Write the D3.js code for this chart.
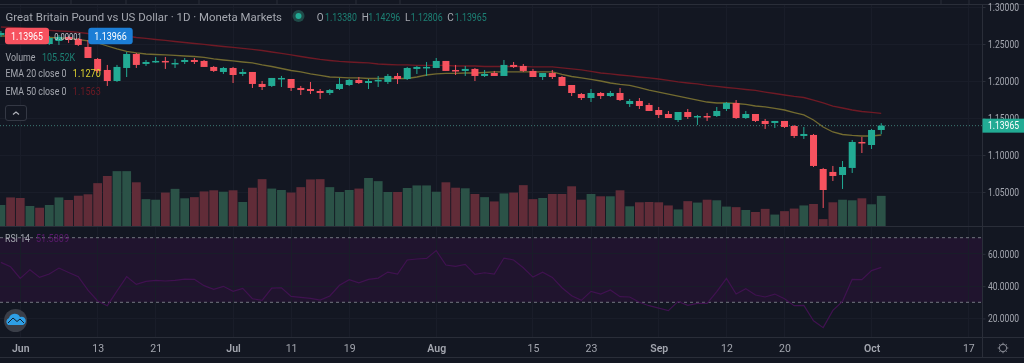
<!DOCTYPE html>
<html><head><meta charset="utf-8">
<script src="https://cdn.jsdelivr.net/npm/d3@7/dist/d3.min.js"></script>
<style>
html,body{margin:0;padding:0;background:#131722;overflow:hidden}
svg{display:block;filter:blur(.4px)}
text{font-family:Roboto,"Liberation Sans",sans-serif}
</style></head><body>
<svg id="c" width="1024" height="363"></svg>
<script>
const opens=[1.2622,1.2676,1.2649,1.2581,1.2622,1.2500,1.2541,1.2595,1.2568,1.2460,1.2298,1.2149,1.2000,1.2176,1.2365,1.2230,1.2257,1.2271,1.2230,1.2257,1.2284,1.2271,1.2190,1.2122,1.2176,1.2095,1.2122,1.1960,1.1933,1.2027,1.2027,1.1906,1.1892,1.1865,1.1838,1.1892,1.1946,1.2014,1.1973,1.2000,1.1987,1.2068,1.2027,1.2163,1.2176,1.2176,1.2271,1.2149,1.2136,1.2163,1.2068,1.2108,1.2068,1.2217,1.2203,1.2136,1.2054,1.2108,1.2054,1.1946,1.1824,1.1770,1.1838,1.1797,1.1838,1.1689,1.1730,1.1676,1.1608,1.1554,1.1473,1.1581,1.1514,1.1527,1.1527,1.1622,1.1703,1.1500,1.1554,1.1460,1.1433,1.1460,1.1392,1.1257,1.1271,1.0811,1.0771,1.0730,1.0825,1.1176,1.1135,1.1338];
const highs=[1.2676,1.2703,1.2676,1.2676,1.2649,1.2608,1.2622,1.2608,1.2581,1.2554,1.2311,1.2217,1.2217,1.2392,1.2379,1.2284,1.2325,1.2325,1.2298,1.2311,1.2311,1.2284,1.2203,1.2190,1.2190,1.2163,1.2122,1.2000,1.2041,1.2068,1.2027,1.1933,1.1987,1.1892,1.1892,1.2041,1.2027,1.2054,1.2027,1.2068,1.2095,1.2108,1.2190,1.2203,1.2257,1.2311,1.2271,1.2217,1.2203,1.2176,1.2149,1.2136,1.2284,1.2257,1.2230,1.2163,1.2108,1.2149,1.2068,1.1946,1.1838,1.1892,1.1851,1.1865,1.1906,1.1757,1.1770,1.1703,1.1649,1.1595,1.1581,1.1622,1.1541,1.1568,1.1649,1.1716,1.1743,1.1595,1.1554,1.1487,1.1460,1.1460,1.1406,1.1379,1.1284,1.0825,1.0852,1.0919,1.1203,1.1244,1.1352,1.1430];
const lows=[1.2595,1.2581,1.2568,1.2554,1.2527,1.2487,1.2487,1.2514,1.2473,1.2311,1.2108,1.1933,1.1987,1.2054,1.2176,1.2203,1.2244,1.2163,1.2176,1.2230,1.2230,1.2190,1.2122,1.2095,1.1973,1.2068,1.1906,1.1878,1.1919,1.1919,1.1865,1.1811,1.1824,1.1757,1.1811,1.1878,1.1933,1.1960,1.1892,1.1919,1.1960,1.1960,1.2014,1.2095,1.2068,1.2176,1.2136,1.2081,1.2068,1.2000,1.2054,1.2068,1.2068,1.2176,1.2122,1.2054,1.2014,1.2027,1.1933,1.1797,1.1743,1.1716,1.1757,1.1784,1.1730,1.1649,1.1622,1.1595,1.1500,1.1500,1.1446,1.1487,1.1406,1.1460,1.1514,1.1595,1.1487,1.1487,1.1446,1.1352,1.1365,1.1365,1.1230,1.1217,1.0838,1.0284,1.0649,1.0541,1.0757,1.1027,1.1081,1.1281];
const closes=[1.2649,1.2608,1.2595,1.2649,1.2554,1.2581,1.2595,1.2554,1.2487,1.2311,1.2136,1.2000,1.2190,1.2365,1.2217,1.2257,1.2271,1.2257,1.2244,1.2284,1.2257,1.2190,1.2136,1.2176,1.2081,1.2122,1.1960,1.1919,1.2041,1.2041,1.1906,1.1878,1.1865,1.1838,1.1878,1.1960,1.2014,1.1973,1.2000,1.2014,1.2068,1.2027,1.2176,1.2190,1.2190,1.2271,1.2136,1.2136,1.2163,1.2068,1.2095,1.2068,1.2217,1.2190,1.2136,1.2054,1.2108,1.2054,1.1933,1.1838,1.1770,1.1838,1.1797,1.1838,1.1743,1.1730,1.1662,1.1595,1.1541,1.1500,1.1581,1.1514,1.1527,1.1514,1.1595,1.1703,1.1500,1.1554,1.1460,1.1419,1.1460,1.1379,1.1257,1.1284,1.0852,1.0527,1.0716,1.0838,1.1176,1.1163,1.1338,1.13965];
const volumes=[73.5,100,98,70,64,73.5,100,91,106,111,150,175,192,192,153,94,92,117,130,97,101,121,125,120,125,84,134,164,131,126,117,136,163,164,136,119,126,131,168,157,119,119,133,142,142,120,153,134,132,112,101,86,114,117,143,94,98,112,112,139,92,112,104,104,125,69,83,84,83,72,58,87,82,92,90,68,66,56,49,60,40,52,61,72,77,24,83,92,90,97,76,105.52];
const ema20=[1.2608,1.2608,1.2608,1.2601,1.2595,1.2588,1.2581,1.2575,1.2561,1.2541,1.2514,1.2473,1.2433,1.2399,1.2379,1.2365,1.2358,1.2352,1.2345,1.2338,1.2331,1.2318,1.2298,1.2284,1.2271,1.2257,1.2244,1.2217,1.2196,1.2169,1.2142,1.2122,1.2095,1.2075,1.2054,1.2048,1.2041,1.2041,1.2034,1.2034,1.2034,1.2034,1.2034,1.2054,1.2081,1.2095,1.2102,1.2102,1.2108,1.2108,1.2115,1.2122,1.2122,1.2122,1.2122,1.2122,1.2122,1.2122,1.2088,1.2061,1.2041,1.2021,1.2000,1.1973,1.1953,1.1940,1.1912,1.1878,1.1851,1.1824,1.1797,1.1770,1.1743,1.1716,1.1703,1.1703,1.1696,1.1683,1.1662,1.1649,1.1629,1.1608,1.1574,1.1541,1.1473,1.1379,1.1311,1.1277,1.1264,1.1257,1.1257,1.1270];
const ema50=[1.2730,1.2723,1.2717,1.2703,1.2689,1.2683,1.2676,1.2669,1.2656,1.2642,1.2635,1.2629,1.2622,1.2608,1.2588,1.2575,1.2561,1.2548,1.2534,1.2520,1.2507,1.2494,1.2480,1.2466,1.2453,1.2440,1.2426,1.2412,1.2392,1.2372,1.2352,1.2331,1.2311,1.2291,1.2277,1.2264,1.2257,1.2250,1.2244,1.2230,1.2223,1.2217,1.2217,1.2210,1.2210,1.2210,1.2210,1.2203,1.2203,1.2203,1.2196,1.2196,1.2196,1.2196,1.2196,1.2190,1.2190,1.2190,1.2176,1.2163,1.2149,1.2129,1.2108,1.2095,1.2081,1.2068,1.2054,1.2041,1.2027,1.2007,1.1987,1.1973,1.1960,1.1940,1.1926,1.1912,1.1899,1.1885,1.1872,1.1851,1.1831,1.1811,1.1791,1.1777,1.1743,1.1703,1.1662,1.1635,1.1608,1.1588,1.1575,1.1563];
const rsi=[54.7,52.0,44.8,50.2,45.4,47.5,51.2,48.5,45.9,37.6,30.8,27.9,37.0,45.9,41.1,43.0,43.6,43.2,43.6,44.4,44.2,40.3,38.0,39.9,36.8,38.6,32.2,31.2,38.8,39.0,33.7,33.1,32.4,31.4,33.9,40.5,44.0,42.1,44.2,45.0,48.7,47.5,56.2,56.8,57.2,62.0,53.1,52.2,53.5,47.3,48.3,47.5,57.4,56.2,51.4,45.6,48.7,45.4,39.0,34.1,31.2,36.8,35.1,37.6,33.5,33.3,30.0,27.9,26.4,24.8,30.6,28.1,29.3,29.3,36.6,44.8,35.1,38.4,34.5,33.3,35.1,32.2,27.9,28.1,18.6,14.3,25.0,30.6,44.2,44.0,49.6,51.6];
const priceTicks=[1.30,1.25,1.20,1.15,1.10,1.05];
const rsiTicks=[60,40,20];
const rsiBand=[70,30];
const timeTickIndex=[2,10,16,24,30,36,45,55,61,68,75,81,90,100];
const timeTickLabels=["Jun","13","21","Jul","11","19","Aug","15","23","Sep","12","20","Oct","17"];
const timeTickBold=["Jun","Jul","Aug","Sep","Oct"];
const lastPrice=1.13965;
const titleText="Great Britain Pound vs US Dollar · 1D · Moneta Markets";
const ohlcLabels=["O","H","L","C"];
const ohlcValues=["1.13380","1.14296","1.12806","1.13965"];

const RED="#f7525f",GREEN="#22ab94";
const svg=d3.select("#c");
const x=d3.scaleLinear().domain([0,100]).range([0.9,968.3]);
const y=d3.scaleLinear().domain([1.30,1.05]).range([7,192]);
const yVol=d3.scaleLinear().domain([0,200]).range([226,226-200/3.5]);
const yRsi=d3.scaleLinear().domain([70,30]).range([237.7,302.3]);
const plotR=982.5, GRID="#191d29", LINE="#2a2e39", AXT="#a3a6af";
const idx=d3.range(closes.length);

svg.append("g").selectAll("line").data([71,126,199,277,356,400,941,969]).join("line")
  .attr("x1",d=>d).attr("x2",d=>d).attr("y1",0).attr("y2",4).attr("stroke",LINE);

const grid=svg.append("g").attr("stroke",GRID).attr("stroke-width",1).attr("shape-rendering","crispEdges");
grid.selectAll(".v").data(timeTickIndex).join("line").attr("class","v").attr("x1",d=>x(d)).attr("x2",d=>x(d)).attr("y1",5).attr("y2",337);
grid.selectAll(".h").data(priceTicks).join("line").attr("class","h").attr("x1",0).attr("x2",plotR).attr("y1",d=>y(d)).attr("y2",d=>y(d));

svg.append("rect").attr("x",0).attr("width",plotR).attr("y",yRsi(rsiBand[0])).attr("height",yRsi(rsiBand[1])-yRsi(rsiBand[0])).attr("fill","#20142e");
grid.raise();
grid.selectAll(".r").data(rsiTicks).join("line").attr("class","r").attr("x1",0).attr("x2",plotR).attr("y1",d=>yRsi(d)).attr("y2",d=>yRsi(d));
svg.append("g").selectAll("line").data(rsiBand).join("line").attr("x1",0).attr("x2",plotR).attr("y1",d=>yRsi(d)).attr("y2",d=>yRsi(d))
  .attr("stroke","#737681").attr("stroke-dasharray","3 3");

const frame=svg.append("g").attr("stroke",LINE).attr("shape-rendering","crispEdges");
[[0,1024,4.5,4.5],[0,1024,226.5,226.5],[0,1024,337.5,337.5],[0,1024,357.5,357.5],[982.5,982.5,4.5,357.5]].forEach(l=>
  frame.append("line").attr("x1",l[0]).attr("x2",l[1]).attr("y1",l[2]).attr("y2",l[3]));

svg.append("g").selectAll("rect").data(idx).join("rect")
  .attr("x",i=>x(i)-4.4).attr("width",8.8).attr("y",i=>yVol(volumes[i])).attr("height",i=>226-yVol(volumes[i]))
  .attr("fill",i=>closes[i]>=opens[i]?"#2b5247":"#612c38");

const lineP=d3.line().x((d,i)=>x(i)).y(d=>y(d));
svg.append("path").attr("d",lineP(ema50)).attr("fill","none").attr("stroke","#6f1a25").attr("stroke-width",1.3);
svg.append("path").attr("d",lineP(ema20)).attr("fill","none").attr("stroke","#736b30").attr("stroke-width",1.3);

svg.append("line").attr("x1",0).attr("x2",plotR).attr("y1",y(lastPrice)).attr("y2",y(lastPrice))
  .attr("stroke","#3c7a73").attr("stroke-dasharray","1 2");

const cg=svg.append("g");
cg.selectAll("line").data(idx).join("line").attr("x1",i=>x(i)).attr("x2",i=>x(i))
  .attr("y1",i=>y(highs[i])).attr("y2",i=>y(lows[i])).attr("stroke",i=>closes[i]>=opens[i]?GREEN:RED);
cg.selectAll("rect").data(idx).join("rect").attr("x",i=>x(i)-3.5).attr("width",7)
  .attr("y",i=>y(Math.max(opens[i],closes[i])))
  .attr("height",i=>Math.max(1.5,Math.abs(y(opens[i])-y(closes[i]))))
  .attr("fill",i=>closes[i]>=opens[i]?GREEN:RED);

svg.append("path").attr("d",d3.line().x((d,i)=>x(i)).y(d=>yRsi(d))(rsi)).attr("fill","none").attr("stroke","#401250").attr("stroke-width",1.2);

function styleAxis(g){g.select(".domain").remove();g.selectAll("text").attr("fill",AXT).attr("font-size",10)
  .attr("textLength",31).attr("lengthAdjust","spacingAndGlyphs");}
svg.append("g").attr("transform",`translate(${plotR},0)`).call(d3.axisRight(y).tickValues(priceTicks).tickSize(3).tickPadding(2.5).tickFormat(d3.format(".5f"))).call(styleAxis).call(g=>g.selectAll("line").attr("stroke",LINE));
svg.append("g").attr("transform",`translate(${plotR},0)`).call(d3.axisRight(yRsi).tickValues(rsiTicks).tickSize(3).tickPadding(2.5).tickFormat(d3.format(".4f"))).call(styleAxis).call(g=>g.selectAll("line").attr("stroke",LINE));
svg.append("g").attr("transform","translate(0,337.5)").call(d3.axisBottom(x).tickValues(timeTickIndex).tickSize(0).tickPadding(7).tickFormat((d,i)=>timeTickLabels[i]))
  .call(g=>{g.select(".domain").remove();g.selectAll("text").attr("fill",AXT).attr("font-size",10.5)
    .attr("font-weight",d=>timeTickBold.includes(timeTickLabels[timeTickIndex.indexOf(d)])?600:400);});

svg.append("rect").attr("x",plotR).attr("width",42).attr("y",y(lastPrice)-7).attr("height",14).attr("fill",GREEN);

const gear=svg.append("g").attr("transform","translate(1003,348)").attr("stroke","#7e818b").attr("fill","none");
gear.append("circle").attr("r",3.6).attr("stroke-width",1.1);
d3.range(8).forEach(k=>{const a=k*Math.PI/4;gear.append("line").attr("x1",3.6*Math.cos(a)).attr("y1",3.6*Math.sin(a)).attr("x2",5.3*Math.cos(a)).attr("y2",5.3*Math.sin(a));});

function T(px,py,s,fill,size,w){const t=svg.append("text").attr("x",px).attr("y",py).attr("fill",fill).attr("font-size",size).text(s);
  if(w)t.attr("textLength",w).attr("lengthAdjust","spacingAndGlyphs");return t;}
T(988,y(lastPrice)+3.8,d3.format(".5f")(lastPrice),"#fff",10,31);
T(5.5,21,titleText,"#a5a8b0",11.8,276.5);
svg.append("circle").attr("cx",298.5).attr("cy",16).attr("r",6).attr("fill","#1f4a48");
svg.append("circle").attr("cx",298.5).attr("cy",16).attr("r",3).attr("fill","#22ab94");
[316.7,361.7,405,447.3].forEach((px,i)=>T(px,20.8,ohlcLabels[i],"#a5a8b0",10));
[325,368.3,410.7,454.7].forEach((px,i)=>T(px,20.8,ohlcValues[i],"#1d8074",10,32));

svg.append("rect").attr("x",5).attr("y",27.7).attr("width",44).attr("height",16.6).attr("rx",3).attr("fill",RED);
T(11,40,"1.13965","#fff",10,32);
T(54.3,40,"0.00001","#c8cad0",9,27.4);
svg.append("rect").attr("x",88.3).attr("y",27.7).attr("width",44.4).attr("height",16.6).attr("rx",3).attr("fill","#1c7ed6");
T(94.3,40,"1.13966","#fff",10,32.4);

T(5.5,60.5,"Volume","#a5a8b0",10,30);
T(42,60.5,"105.52K","#1d8074",10,33);
T(5.5,77,"EMA 20 close 0","#a5a8b0",10,61);
T(72.8,77,"1.1270","#dcd02f",10,28);
T(5.5,94.5,"EMA 50 close 0","#a5a8b0",10,61);
T(72.8,94.5,"1.1563","#6d1a24",10,28);
svg.append("rect").attr("x",5.5).attr("y",105.5).attr("width",21).attr("height",15).attr("rx",2.5).attr("fill","#131722").attr("stroke","#343844");
svg.append("path").attr("d","M13,114.5 L16,112 L19,114.5").attr("fill","none").attr("stroke","#b0b3bb").attr("stroke-width",1.2);
T(5,242,"RSI 14","#a5a8b0",10,25);
T(36,242,"51.5809","#5a1a6c",10,33);

svg.append("circle").attr("cx",15.5).attr("cy",320.5).attr("r",11.5).attr("fill","#3a3e48");
svg.append("path").attr("d","M8,325 a4,4 0 0 1 1,-7 a6,6 0 0 1 11,-1 a4,4 0 0 1 3,8 Z").attr("fill","#2e9fe6");
svg.append("path").attr("d","M8,323 L13,318 L17,321.5 L20,319 L24,323").attr("fill","none").attr("stroke","#16202c").attr("stroke-width",1);
</script>
</body></html>
